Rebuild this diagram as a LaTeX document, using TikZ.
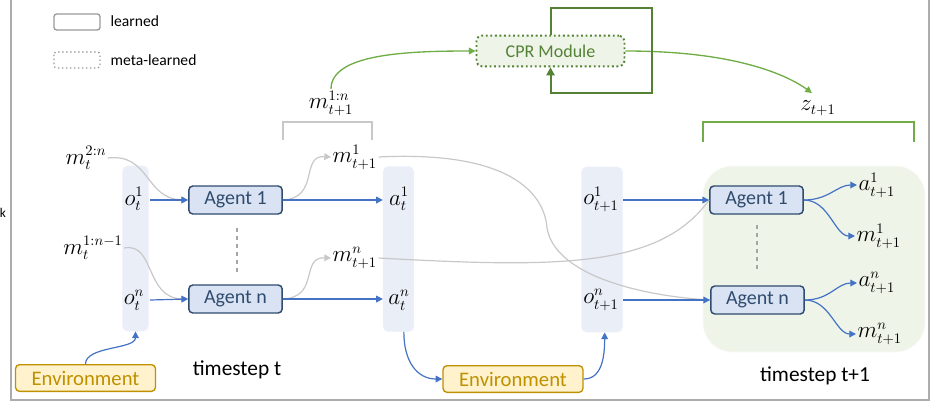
\documentclass[tikz,border=0pt]{standalone}
\usepackage{fontspec}
\setmainfont{Carlito}
\usetikzlibrary{arrows.meta,positioning}
\definecolor{agentfill}{HTML}{DAE3F3}
\definecolor{agentline}{HTML}{2F4B6E}
\definecolor{flowblue}{HTML}{4472C4}
\definecolor{colfill}{HTML}{E9EEF7}
\definecolor{envfill}{HTML}{FFF2CC}
\definecolor{envline}{HTML}{BF9000}
\definecolor{cprgreen}{HTML}{70AD47}
\definecolor{loopgreen}{HTML}{548235}
\definecolor{cprfill}{HTML}{EFF4E9}
\definecolor{msggray}{HTML}{C8C8C8}

\tikzset{every node/.style={inner sep=1pt}}
\tikzstyle{agent}=[draw=agentline, fill=agentfill, rounded corners=3pt, line width=1.1pt, minimum width=70pt, minimum height=21pt, text=agentline, font=\fontsize{15}{17}\selectfont]
\tikzstyle{column}=[draw=colfill!80!blue!20, fill=colfill, rounded corners=4pt, minimum width=19.5pt]
\tikzstyle{env}=[draw=envline, fill=envfill, rounded corners=3pt, line width=1pt, minimum width=105pt, minimum height=20pt, text=envline, font=\fontsize{15.5}{17}\selectfont]
\tikzstyle{flow}=[flowblue, line width=0.9pt, -{Triangle[length=5pt,width=5pt]}]
\tikzstyle{msg}=[msggray, line width=0.9pt]
\tikzstyle{msgarrow}=[msg, -{Triangle[length=5pt,width=5pt]}]
\tikzstyle{greenflow}=[cprgreen, line width=1pt, -{Triangle[length=5pt,width=5pt]}]
\tikzstyle{lbl}=[font=\fontsize{16}{18}\selectfont]
\tikzstyle{legendtext}=[anchor=west, font=\fontsize{11.7}{13}\selectfont]

\begin{document}
\begin{tikzpicture}[x=0.75pt, y=-0.75pt]
  \useasboundingbox (0,0) rectangle (935,404);
  % frame
  \draw[gray!65, line width=1.2pt] (11,0) -- (11,400) -- (929,400) -- (929,0);
  \node at (3,213) {k};

  % legend
  \draw[gray!80, line width=1pt, rounded corners=2pt] (54,14) rectangle (100,30);
  \node[legendtext] (learned) at (109,21) {learned};
  \draw[gray!80, line width=1pt, dotted, rounded corners=2pt] (54,52) rectangle (100,68);
  \node[legendtext] (metalearned) at (109,60) {meta-learned};

  % timestep t+1 region
  \draw[cprfill!85!black!10, fill=cprfill, rounded corners=22pt] (703,166) rectangle (925,352);

  % columns
  \node[column, minimum height=124pt] (obs) at (135.5,248.5) {};
  \node[column, minimum height=124pt, minimum width=23pt] (act) at (398.5,249) {};
  \node[column, minimum height=124pt, minimum width=31pt] (obsnext) at (602,249.5) {};

  % agents
  \node[agent] (ag1) at (235.5,200) {Agent 1};
  \node[agent] (agn) at (235.5,299) {Agent n};
  \node[agent] (ag1next) at (756.5,200) {Agent 1};
  \node[agent] (agnnext) at (757.5,300) {Agent n};
  \draw[gray!70, dashed, line width=0.9pt] (237,228) -- (237,272);
  \draw[gray!70, dashed, line width=0.9pt] (757,225) -- (757,272);

  % environments
  \node[env] (env1) at (85.5,378) {Environment};
  \node[env] (env2) at (513,379) {Environment};

  % CPR module
  \node[draw=loopgreen, fill=cprfill, dotted, line width=1.4pt, rounded corners=4pt, minimum width=111pt, minimum height=23pt, text=loopgreen, font=\fontsize{13.5}{15}\selectfont] (cpr) at (550.5,51) {CPR Module};

  % labels
  \node[lbl] (ot1) at (134,199) {$o_t^1$};
  \node[lbl] (otn) at (134,300) {$o_t^n$};
  \node[lbl] (m2n) at (86,158) {$m_t^{2:n}$};
  \node[lbl] (m1n) at (93,248) {$m_t^{1:n-1}$};
  \node[lbl] (at1) at (399,199) {$a_t^1$};
  \node[lbl] (atn) at (399,300) {$a_t^n$};
  \node[lbl, anchor=west] (m1next) at (331,157) {$m_{t+1}^1$};
  \node[lbl, anchor=west] (mnnext) at (331,258) {$m_{t+1}^n$};
  \node[lbl] (ot1next) at (601,199) {$o_{t+1}^1$};
  \node[lbl] (otnnext) at (601,300) {$o_{t+1}^n$};
  \node[lbl, anchor=west] (a1out) at (857,185) {$a_{t+1}^1$};
  \node[lbl, anchor=west] (m1out) at (855,236) {$m_{t+1}^1$};
  \node[lbl, anchor=west] (anout) at (857,283) {$a_{t+1}^n$};
  \node[lbl, anchor=west] (mnout) at (856,334) {$m_{t+1}^n$};
  \node[lbl] (mall) at (331,103) {$m_{t+1}^{1:n}$};
  \node[lbl] (znext) at (818,108) {$z_{t+1}$};
  \node[font=\fontsize{16}{18}\selectfont] (tst) at (237,370) {timestep t};
  \node[font=\fontsize{16}{18}\selectfont] (tstnext) at (815,376) {timestep t+1};

  % brackets
  \draw[msg, line width=1.3pt] (283,140) -- (283,122) -- (372,122) -- (372,140);
  \draw[cprgreen, line width=1.3pt] (703,142) -- (703,122) -- (914,122) -- (914,142);

  % gray message flows
  \draw[msgarrow] (m2n.east) .. controls (150,153) and (145,199) .. (ag1.west);
  \draw[msgarrow] (m1n.east) .. controls (155,242) and (145,298) .. (agn.west);
  \draw[msgarrow] (ag1.east) .. controls (320,198) and (300,155) .. (m1next.west);
  \draw[msgarrow] (agn.east) .. controls (320,297) and (300,257) .. (mnnext.west);
  \draw[msg] (m1next.east) .. controls (520,150) and (545,200) .. (547,228)
             .. controls (555,275) and (640,296) .. (agnnext.west);
  \draw[msg] (mnnext.east) .. controls (560,268) and (660,268) .. (ag1next.west);

  % blue flows
  \draw[flow] (150,200) -- (ag1.west);
  \draw[flow] (150,300) -- (agn.west);
  \draw[flow] (ag1.east) -- (act.west |- ag1.east);
  \draw[flow] (agn.east) -- (act.west |- agn.east);
  \draw[flow] (623,200) -- (ag1next.west);
  \draw[flow] (623,300) -- (agnnext.west);
  \draw[flow] (env1.north) .. controls +(0,-18) and +(0,18) .. (obs.south);
  \draw[flow] ([xshift=4pt]act.south) .. controls +(0,30) and +(-25,0) .. (env2.west);
  \draw[flow] (env2.east) .. controls +(18,0) and +(0,25) .. ([xshift=2pt]obsnext.south);
  \draw[flow] (ag1next.east) .. controls +(25,0) and +(-20,0) .. (a1out.west);
  \draw[flow] (ag1next.east) .. controls +(25,0) and +(-20,0) .. (m1out.west);
  \draw[flow] (agnnext.east) .. controls +(25,0) and +(-20,0) .. (anout.west);
  \draw[flow] (agnnext.east) .. controls +(25,0) and +(-20,0) .. (mnout.west);

  % green flows
  \draw[greenflow] (mall.north) .. controls +(0,-35) and +(-70,0) .. (cpr.west);
  \draw[greenflow] (cpr.east) .. controls +(110,0) and +(-25,-18) .. (812,93);
  \draw[loopgreen, line width=1.5pt, -{Triangle[length=6pt,width=6pt]}]
    (cpr.north) -- ++(0,-27) -| ++(101,85) -| (cpr.south);
\end{tikzpicture}
\end{document}
